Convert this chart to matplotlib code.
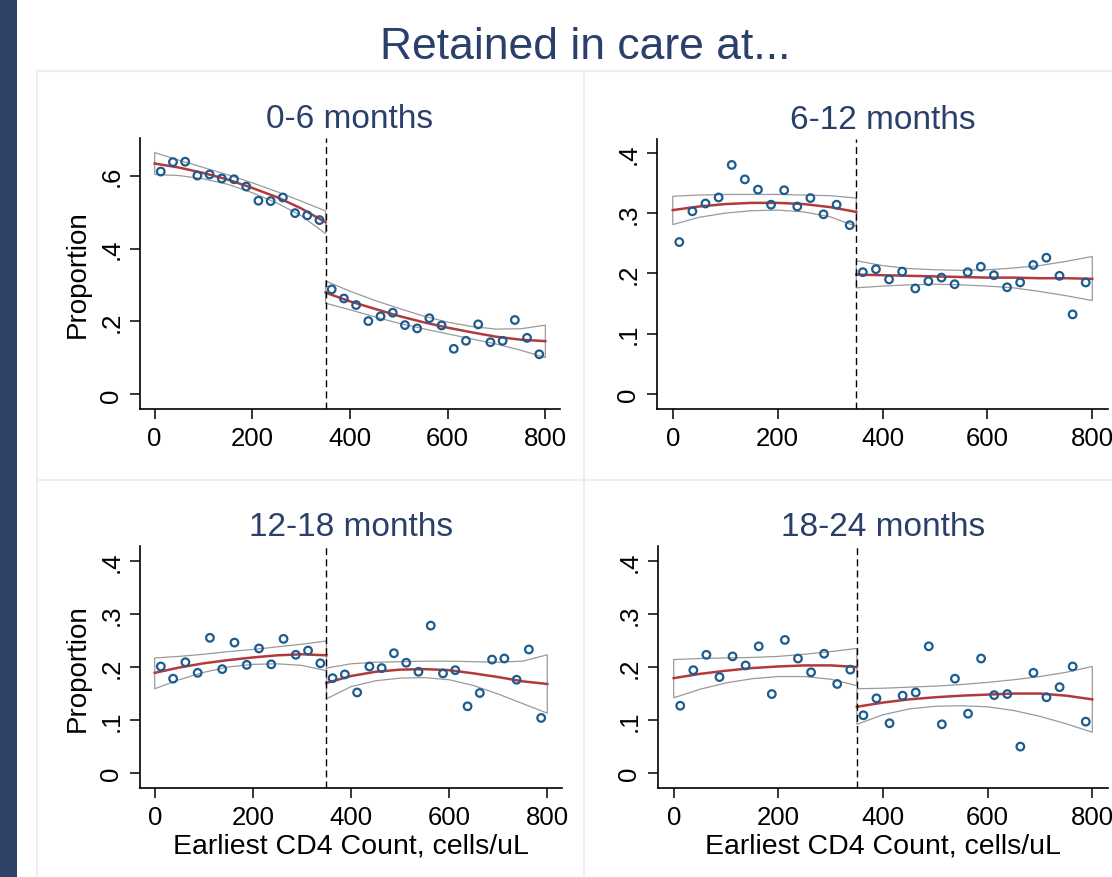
import numpy as np
import matplotlib.pyplot as plt
from matplotlib.lines import Line2D
from matplotlib.patches import Rectangle

plt.rcParams['font.family'] = ['Liberation Sans', 'DejaVu Sans']

# CD4 bin midpoints below / above the 350 threshold
x_below = [12.5, 37.5, 62.5, 87.5, 112.5, 137.5, 162.5, 187.5, 212.5, 237.5,
           262.5, 287.5, 312.5, 337.5]
x_above = [362.5, 387.5, 412.5, 437.5, 462.5, 487.5, 512.5, 537.5, 562.5,
           587.5, 612.5, 637.5, 662.5, 687.5, 712.5, 737.5, 762.5, 787.5]
# x grid for fitted curves and confidence bands
fx_below = [0, 50, 100, 150, 200, 250, 300, 350]
fx_above = [350, 400, 450, 500, 550, 600, 650, 700, 750, 800]

# 0-6 months
m06_pts_below = [0.611, 0.637, 0.638, 0.600, 0.603, 0.592, 0.590, 0.570, 0.531, 0.530,
                 0.540, 0.497, 0.491, 0.478]
m06_pts_above = [0.288, 0.263, 0.245, 0.201, 0.214, 0.224, 0.190, 0.181, 0.209, 0.189,
                 0.125, 0.147, 0.192, 0.143, 0.147, 0.204, 0.155, 0.110]
m06_fit_below = [0.633, 0.622, 0.607, 0.589, 0.566, 0.541, 0.510, 0.472]
m06_hi_below = [0.663, 0.642, 0.622, 0.602, 0.580, 0.556, 0.530, 0.503]
m06_lo_below = [0.603, 0.600, 0.591, 0.576, 0.553, 0.525, 0.490, 0.441]
m06_fit_above = [0.279, 0.255, 0.235, 0.215, 0.198, 0.183, 0.170, 0.158, 0.150, 0.146]
m06_hi_above = [0.311, 0.283, 0.258, 0.236, 0.215, 0.198, 0.186, 0.179, 0.180, 0.190]
m06_lo_above = [0.250, 0.232, 0.213, 0.195, 0.180, 0.166, 0.152, 0.138, 0.121, 0.101]

# 6-12 months
m612_pts_below = [0.252, 0.303, 0.316, 0.326, 0.380, 0.356, 0.339, 0.314, 0.338, 0.311,
                  0.325, 0.298, 0.314, 0.280]
m612_pts_above = [0.202, 0.207, 0.190, 0.203, 0.175, 0.187, 0.193, 0.182, 0.202, 0.211,
                  0.197, 0.177, 0.185, 0.214, 0.226, 0.196, 0.132, 0.185]
m612_fit_below = [0.305, 0.311, 0.315, 0.317, 0.317, 0.315, 0.310, 0.302]
m612_hi_below = [0.328, 0.330, 0.331, 0.331, 0.331, 0.330, 0.329, 0.325]
m612_lo_below = [0.281, 0.293, 0.300, 0.304, 0.305, 0.302, 0.294, 0.278]
m612_fit_above = [0.198, 0.197, 0.196, 0.195, 0.194, 0.193, 0.193, 0.192, 0.192, 0.191]
m612_hi_above = [0.221, 0.213, 0.208, 0.206, 0.205, 0.206, 0.209, 0.213, 0.220, 0.228]
m612_lo_above = [0.176, 0.179, 0.181, 0.182, 0.181, 0.179, 0.176, 0.170, 0.163, 0.155]

# 12-18 months
m1218_pts_below = [0.201, 0.178, 0.209, 0.189, 0.255, 0.196, 0.246, 0.204, 0.235, 0.205,
                   0.253, 0.223, 0.231, 0.207]
m1218_pts_above = [0.179, 0.186, 0.152, 0.201, 0.198, 0.226, 0.208, 0.191, 0.278, 0.188,
                   0.194, 0.126, 0.151, 0.214, 0.216, 0.176, 0.233, 0.104]
m1218_fit_below = [0.189, 0.199, 0.207, 0.213, 0.218, 0.222, 0.224, 0.222]
m1218_hi_below = [0.217, 0.220, 0.224, 0.229, 0.233, 0.238, 0.243, 0.249]
m1218_lo_below = [0.159, 0.176, 0.190, 0.200, 0.205, 0.206, 0.203, 0.193]
m1218_fit_above = [0.170, 0.183, 0.191, 0.195, 0.196, 0.194, 0.188, 0.181, 0.173, 0.168]
m1218_hi_above = [0.198, 0.206, 0.209, 0.210, 0.211, 0.211, 0.210, 0.209, 0.211, 0.223]
m1218_lo_above = [0.140, 0.163, 0.174, 0.179, 0.180, 0.176, 0.165, 0.149, 0.131, 0.113]

# 18-24 months
m1824_pts_below = [0.127, 0.194, 0.223, 0.181, 0.220, 0.203, 0.239, 0.149, 0.251, 0.216,
                   0.190, 0.225, 0.168, 0.195]
m1824_pts_above = [0.109, 0.141, 0.094, 0.146, 0.152, 0.239, 0.092, 0.178, 0.112, 0.216,
                   0.147, 0.149, 0.050, 0.189, 0.143, 0.162, 0.201, 0.097]
m1824_fit_below = [0.179, 0.187, 0.193, 0.198, 0.201, 0.203, 0.203, 0.200]
m1824_hi_below = [0.214, 0.216, 0.217, 0.218, 0.220, 0.224, 0.229, 0.235]
m1824_lo_below = [0.142, 0.158, 0.170, 0.178, 0.182, 0.182, 0.177, 0.165]
m1824_fit_above = [0.125, 0.133, 0.139, 0.143, 0.146, 0.148, 0.150, 0.150, 0.146, 0.139]
m1824_hi_above = [0.159, 0.160, 0.162, 0.164, 0.167, 0.171, 0.176, 0.182, 0.190, 0.201]
m1824_lo_above = [0.092, 0.110, 0.121, 0.126, 0.127, 0.125, 0.118, 0.107, 0.093, 0.077]

x_ticks = [0, 200, 400, 600, 800]
yticks_06 = [0, 0.2, 0.4, 0.6]
ylabels_06 = ['0', '.2', '.4', '.6']
yticks_rest = [0, 0.1, 0.2, 0.3, 0.4]
ylabels_rest = ['0', '.1', '.2', '.3', '.4']

NAVY = '#2b3f6b'
BLUE = '#1c5c8e'
RED = '#b23a3a'
GREY = '#9a9a9a'
W, H = 1112, 878

panels = [
    ('0-6 months', (140, 560, 139, 410), (-0.040, 0.703), yticks_06, ylabels_06, True, False,
     m06_pts_below, m06_pts_above, m06_fit_below, m06_hi_below, m06_lo_below,
     m06_fit_above, m06_hi_above, m06_lo_above),
    ('6-12 months', (657, 1108, 140, 410), (-0.025, 0.423), yticks_rest, ylabels_rest, False, False,
     m612_pts_below, m612_pts_above, m612_fit_below, m612_hi_below, m612_lo_below,
     m612_fit_above, m612_hi_above, m612_lo_above),
    ('12-18 months', (140, 562, 547, 789), (-0.028, 0.428), yticks_rest, ylabels_rest, True, True,
     m1218_pts_below, m1218_pts_above, m1218_fit_below, m1218_hi_below, m1218_lo_below,
     m1218_fit_above, m1218_hi_above, m1218_lo_above),
    ('18-24 months', (658, 1108, 547, 789), (-0.028, 0.428), yticks_rest, ylabels_rest, False, True,
     m1824_pts_below, m1824_pts_above, m1824_fit_below, m1824_hi_below, m1824_lo_below,
     m1824_fit_above, m1824_hi_above, m1824_lo_above),
]

fig = plt.figure(figsize=(W / 100, H / 100), dpi=100)

# slide decoration: dark bar on the left and faint panel borders
fig.patches.append(Rectangle((0, 0), 17 / W, 1, transform=fig.transFigure,
                             facecolor='#2e4268', edgecolor='none'))
border = '#e8f1ef'
for xs, ys in [([37, 37], [72, H]), ([584, 584], [72, H]),
               ([37, W], [72, 72]), ([37, W], [481, 481])]:
    fig.lines.append(Line2D([x / W for x in xs], [1 - y / H for y in ys],
                            transform=fig.transFigure, color=border, lw=1.5))

fig.text(585 / W, 1 - 59 / H, 'Retained in care at...', ha='center', va='baseline',
         fontsize=32, color=NAVY)

for (title, (l, r, t, b), ylim, yt, yl, show_ylabel, show_xlabel,
     pb, pa, fb, hb, lb, fa, ha_, la) in panels:
    ax = fig.add_axes([l / W, 1 - b / H, (r - l) / W, (b - t) / H])

    # confidence bands drawn as closed outlines
    ax.fill(np.r_[fx_below, fx_below[::-1]], np.r_[hb, lb[::-1]],
            facecolor='none', edgecolor=GREY, lw=0.9)
    ax.fill(np.r_[fx_above, fx_above[::-1]], np.r_[ha_, la[::-1]],
            facecolor='none', edgecolor=GREY, lw=0.9)

    ax.plot(fx_below, fb, color=RED, lw=1.8)
    ax.plot(fx_above, fa, color=RED, lw=1.8)

    ax.scatter(x_below, pb, s=30, facecolors='none', edgecolors=BLUE, linewidths=1.6, zorder=3)
    ax.scatter(x_above, pa, s=30, facecolors='none', edgecolors=BLUE, linewidths=1.6, zorder=3)

    ax.axvline(350, color='black', lw=1, linestyle=(0, (5, 3)))

    ax.set_xlim(-30, 830)
    ax.set_ylim(*ylim)
    ax.set_xticks(x_ticks)
    ax.set_yticks(yt)
    ax.set_yticklabels(yl)

    for side in ['top', 'right']:
        ax.spines[side].set_visible(False)
    for side in ['left', 'bottom']:
        ax.spines[side].set_linewidth(1.2)
    ax.tick_params(axis='both', length=7, width=1.1, labelsize=18.5, pad=5)
    ax.tick_params(axis='y', labelrotation=90)
    for lab in ax.get_yticklabels():
        lab.set_verticalalignment('center')

    ax.set_title(title, fontsize=24, color=NAVY, pad=8)
    if show_ylabel:
        ax.set_ylabel('Proportion', fontsize=20, labelpad=6)
    if show_xlabel:
        ax.set_xlabel('Earliest CD4 Count, cells/uL', fontsize=20.5, labelpad=3)

fig.savefig('out.png', dpi=100, facecolor='white')
